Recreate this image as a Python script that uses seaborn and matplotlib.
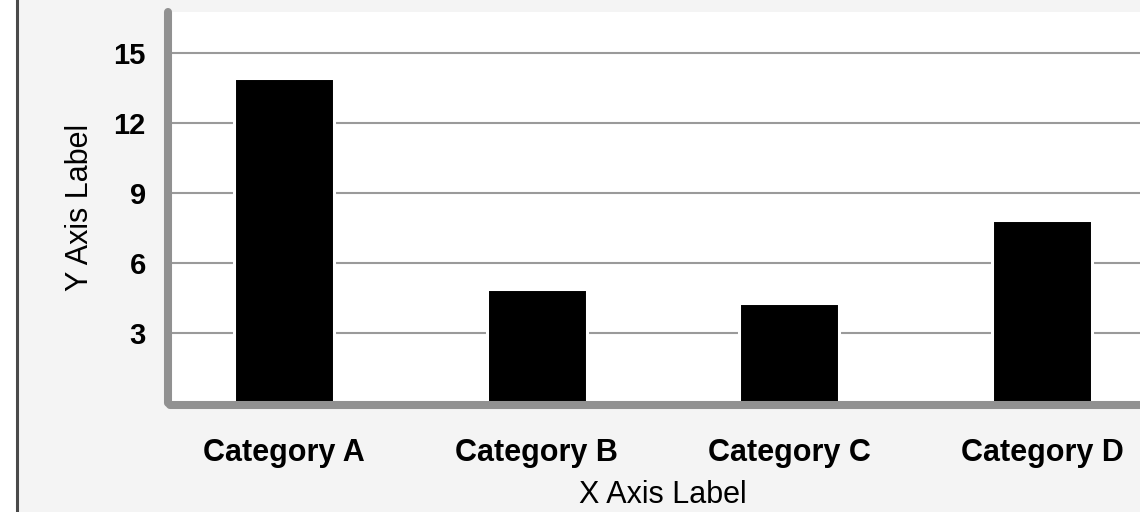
import matplotlib
matplotlib.use("Agg")
import matplotlib.pyplot as plt
from matplotlib.patches import Rectangle
import seaborn as sns
import pandas as pd

categories = ["Category A", "Category B", "Category C", "Category D"]
values = [13.95, 4.9, 4.3, 7.85]
y_ticks = [3, 6, 9, 12, 15]
x_label = "X Axis Label"
y_label = "Y Axis Label"

sns.set_style("white")
plt.rcParams["font.family"] = ["Liberation Sans", "DejaVu Sans"]

W, H, DPI = 1140, 512, 100
fig = plt.figure(figsize=(W / DPI, H / DPI), dpi=DPI)
fig.patch.set_facecolor("white")
fig.add_artist(Rectangle((17.3 / W, -0.1), 1.5, 1.3, transform=fig.transFigure,
                         facecolor="#f4f4f4", edgecolor="#4a4a4a", linewidth=2.2, zorder=-10))

left_px, right_px, top_px, zero_px = 170, 1156, 12, 403.3
ax = fig.add_axes([left_px / W, (H - zero_px) / H, (right_px - left_px) / W, (zero_px - top_px) / H])
ax.set_facecolor("white")

df = pd.DataFrame({"category": categories, "value": values})
sns.barplot(data=df, x="category", y="value", color="black", saturation=1,
            width=0.396, edgecolor="white", linewidth=2.2, ax=ax, zorder=3)

ax.set_xlim(-0.45, 3.45)
ax.set_ylim(0, 16.77)
ax.set_yticks(y_ticks)
ax.set_yticklabels([str(t) for t in y_ticks])
ax.yaxis.grid(True, color="#9a9a9a", linewidth=1.5)
ax.xaxis.grid(False)
ax.set_axisbelow(True)

for s in ["top", "right"]:
    ax.spines[s].set_visible(False)
for s in ["left", "bottom"]:
    ax.spines[s].set_color("#919191")
    ax.spines[s].set_linewidth(5.8)
    ax.spines[s].set_capstyle("round")
    ax.spines[s].set_zorder(5)
ax.spines["left"].set_position(("outward", 1.4))
ax.spines["bottom"].set_position(("outward", 1.2))

ax.tick_params(axis="both", length=0)
ax.tick_params(axis="y", pad=16, labelsize=21)
ax.tick_params(axis="x", pad=23.5, labelsize=22)
for lab in ax.get_xticklabels() + ax.get_yticklabels():
    lab.set_fontweight("bold")
    lab.set_color("black")

ax.set_xlabel(x_label, fontsize=22, color="black", labelpad=9)
ax.set_ylabel(y_label, fontsize=22, color="black", labelpad=13)

fig.savefig("out.png", dpi=DPI)
